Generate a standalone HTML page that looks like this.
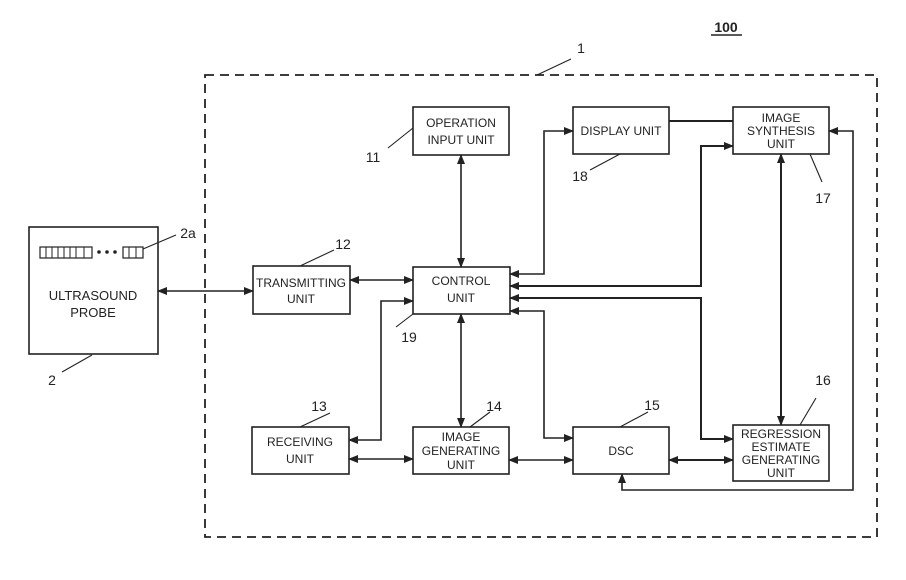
<!DOCTYPE html>
<html><head><meta charset="utf-8"><style>
html,body{margin:0;padding:0;background:#fff}
svg{display:block}
text{font-family:"Liberation Sans",sans-serif;fill:#222}
</style></head><body>
<svg width="906" height="580" viewBox="0 0 906 580" xmlns="http://www.w3.org/2000/svg">
<defs>
<marker id="a" markerWidth="10" markerHeight="8" refX="9" refY="4" orient="auto-start-reverse" markerUnits="userSpaceOnUse"><path d="M0,0 L10,4 L0,8 z" fill="#222"/></marker>
</defs>
<g fill="none" stroke="#222" stroke-width="1.6">
<rect x="205" y="75" width="672" height="462" stroke-dasharray="9,6" stroke-width="1.8"/>
<rect x="29" y="227" width="129" height="127"/>
<rect x="253" y="266" width="97" height="48"/>
<rect x="413" y="267" width="97" height="47"/>
<rect x="413" y="107" width="96" height="48"/>
<rect x="573" y="107" width="96" height="47"/>
<rect x="733" y="107" width="96" height="47"/>
<rect x="252" y="427" width="97" height="47"/>
<rect x="413" y="427" width="96" height="47"/>
<rect x="573" y="427" width="96" height="47"/>
<rect x="733" y="425" width="96" height="56"/>
<!-- transducer -->
<rect x="40" y="247" width="52" height="11" stroke-width="1.2"/>
<path d="M46,247V258M52,247V258M58,247V258M64,247V258M70,247V258M76,247V258M84,247V258" stroke-width="1"/>
<rect x="123" y="247" width="20" height="11" stroke-width="1.2"/>
<path d="M129,247V258M136,247V258" stroke-width="1"/>
<!-- leaders -->
<path d="M143,249 L176,235 M92,355 L62,372 M537,75 L571,59 M300,266 L334,250 M413,128 L388,148 M413,314 L396,327 M620,154 L590,170 M810,154 L822,182 M300,427 L330,413 M470,427 L490,412 M620,427 L648,412 M800,425 L816,398" stroke-width="1.1"/>
<path d="M711,35 H742" stroke-width="1.5"/>
<!-- connectors -->
<path d="M158,291 H253" marker-start="url(#a)" marker-end="url(#a)"/>
<path d="M350,280 H413" marker-start="url(#a)" marker-end="url(#a)"/>
<path d="M349,440 H381 V301 H413" marker-start="url(#a)" marker-end="url(#a)"/>
<path d="M461,155 V267" marker-start="url(#a)" marker-end="url(#a)"/>
<path d="M461,314 V427" marker-start="url(#a)" marker-end="url(#a)"/>
<path d="M349,459 H413" marker-start="url(#a)" marker-end="url(#a)"/>
<path d="M509,460 H573" marker-start="url(#a)" marker-end="url(#a)"/>
<path d="M669,460 H733" marker-start="url(#a)" marker-end="url(#a)" stroke-width="2"/>
<path d="M510,274 H544 V131 H573" marker-start="url(#a)" marker-end="url(#a)"/>
<path d="M510,286 H701 V146 H733" marker-start="url(#a)" marker-end="url(#a)" stroke-width="2"/>
<path d="M510,298 H701 V439 H733" marker-start="url(#a)" marker-end="url(#a)" stroke-width="2"/>
<path d="M510,311 H544 V438 H573" marker-start="url(#a)" marker-end="url(#a)"/>
<path d="M781,154 V425" marker-start="url(#a)" marker-end="url(#a)" stroke-width="2"/>
<path d="M669,121 H733" stroke-width="2"/>
<path d="M829,131 H853 V490 H622 V474" marker-start="url(#a)" marker-end="url(#a)"/>
</g>
<g fill="#222">
<circle cx="99" cy="252" r="1.8"/><circle cx="107" cy="252" r="1.8"/><circle cx="115" cy="252" r="1.8"/>
</g>
<g font-size="12" text-anchor="middle">
<text x="93" y="300" font-size="13">ULTRASOUND</text>
<text x="93" y="317" font-size="13">PROBE</text>
<text x="301" y="287">TRANSMITTING</text>
<text x="301" y="303">UNIT</text>
<text x="461" y="285">CONTROL</text>
<text x="461" y="302">UNIT</text>
<text x="461" y="127">OPERATION</text>
<text x="461" y="144">INPUT UNIT</text>
<text x="621" y="135">DISPLAY UNIT</text>
<text x="781" y="122">IMAGE</text>
<text x="781" y="135">SYNTHESIS</text>
<text x="781" y="148">UNIT</text>
<text x="300" y="446">RECEIVING</text>
<text x="300" y="463">UNIT</text>
<text x="461" y="441">IMAGE</text>
<text x="461" y="455">GENERATING</text>
<text x="461" y="469">UNIT</text>
<text x="621" y="455">DSC</text>
<text x="781" y="438">REGRESSION</text>
<text x="781" y="451">ESTIMATE</text>
<text x="781" y="464">GENERATING</text>
<text x="781" y="477">UNIT</text>
</g>
<g font-size="14" text-anchor="middle">
<text x="726" y="32" font-weight="bold">100</text>
<text x="581" y="53">1</text>
<text x="188" y="238">2a</text>
<text x="52" y="385">2</text>
<text x="343" y="249">12</text>
<text x="373" y="162">11</text>
<text x="409" y="342">19</text>
<text x="580" y="181">18</text>
<text x="823" y="203">17</text>
<text x="319" y="411">13</text>
<text x="494" y="411">14</text>
<text x="652" y="410">15</text>
<text x="823" y="385">16</text>
</g>
</svg>
</body></html>
